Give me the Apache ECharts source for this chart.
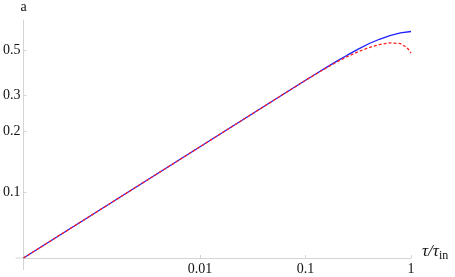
<!DOCTYPE html>
<html>
<head>
<meta charset="utf-8">
<script src="https://cdn.jsdelivr.net/npm/echarts@6/dist/echarts.min.js"></script>
<style>
html,body{margin:0;padding:0;background:#fff;}
#chart{width:455px;height:277px;}
</style>
</head>
<body>
<div id="chart"></div>
<script>
// ---- data ----
const tauBlue = [0.000212, 0.001, 0.01, 0.05, 0.1, 0.126, 0.158, 0.2, 0.251, 0.316, 0.398, 0.501, 0.631, 0.794, 1.0];
const aBlue   = [0.0473, 0.0786, 0.167, 0.283, 0.355, 0.382, 0.411, 0.442, 0.473, 0.505, 0.537, 0.565, 0.589, 0.607, 0.617];
const tauRed  = [0.000212, 0.001, 0.01, 0.05, 0.1, 0.126, 0.158, 0.2, 0.251, 0.316, 0.398, 0.501, 0.631, 0.794, 0.9, 0.95, 1.0];
const aRed    = [0.0473, 0.0786, 0.167, 0.283, 0.355, 0.381, 0.409, 0.438, 0.465, 0.491, 0.514, 0.532, 0.543, 0.538, 0.517, 0.503, 0.483];
const xTicks = [0.01, 0.1, 1];
const xTickLabels = ['0.01', '0.1', '1'];
const yTicks = [0.1, 0.2, 0.3, 0.5];
const yTickLabels = ['0.1', '0.2', '0.3', '0.5'];
const xRange = [0.000212, 1];
const yRange = [0.0473, 0.703];

function pick(ticks, labels, v) {
  let best = 0, bd = Infinity;
  ticks.forEach((t, i) => { const d = Math.abs(Math.log10(t) - Math.log10(v)); if (d < bd) { bd = d; best = i; } });
  return labels[best];
}

const axisColor = '#d4d4d4';
const font = "'Liberation Serif', 'DejaVu Serif', serif";
const chart = echarts.init(document.getElementById('chart'));
chart.setOption({
  animation: false,
  backgroundColor: '#fff',
  grid: { left: 22, right: 44, top: 20, bottom: 19, containLabel: false },
  xAxis: {
    type: 'log', logBase: 10, min: xRange[0], max: xRange[1],
    axisLine: { show: true, lineStyle: { color: axisColor, width: 1 } },
    axisTick: { show: true, inside: true, length: 3, customValues: xTicks, lineStyle: { color: axisColor } },
    minorTick: { show: false },
    splitLine: { show: false },
    axisLabel: { customValues: xTicks, margin: 4, color: '#111', fontFamily: font, fontSize: 14,
      formatter: v => pick(xTicks, xTickLabels, v) },
    name: '{n|τ/τ}{s|in}', nameLocation: 'end', nameGap: 11,
    nameTextStyle: { verticalAlign: 'bottom', padding: [0, 0, -2, 0],
      rich: {
        n: { fontFamily: font, fontStyle: 'italic', fontSize: 17, color: '#111', verticalAlign: 'bottom', lineHeight: 17 },
        s: { fontFamily: font, fontSize: 12, color: '#111', verticalAlign: 'bottom', lineHeight: 17, padding: [0, 0, -2, 0] }
      } }
  },
  yAxis: {
    type: 'log', logBase: 10, min: yRange[0], max: yRange[1],
    axisLine: { show: true, lineStyle: { color: axisColor, width: 1 } },
    axisTick: { show: true, inside: true, length: 3, customValues: yTicks, lineStyle: { color: axisColor } },
    minorTick: { show: false },
    splitLine: { show: false },
    axisLabel: { customValues: yTicks, margin: 3, color: '#111', fontFamily: font, fontSize: 14,
      formatter: v => pick(yTicks, yTickLabels, v) },
    name: 'a', nameLocation: 'end', nameGap: 6,
    nameTextStyle: { fontFamily: font, fontSize: 14, color: '#111', align: 'center' }
  },
  series: [
    { type: 'line', data: tauBlue.map((t, i) => [t, aBlue[i]]), smooth: false, showSymbol: false,
      lineStyle: { color: '#2020ff', width: 1.3 }, z: 2 },
    { type: 'line', data: tauRed.map((t, i) => [t, aRed[i]]), smooth: false, showSymbol: false,
      lineStyle: { color: '#ff2020', width: 1.3, type: [3, 2] }, z: 3 }
  ]
});
// Mathematica-style axis overhang past the origin
const o = chart.convertToPixel({ gridIndex: 0 }, [xRange[0], yRange[0]]);
chart.setOption({ graphic: [
  { type: 'line', shape: { x1: o[0] - 8, y1: o[1], x2: o[0], y2: o[1] }, style: { stroke: axisColor, lineWidth: 1 }, silent: true },
  { type: 'line', shape: { x1: o[0], y1: o[1], x2: o[0], y2: o[1] + 12 }, style: { stroke: axisColor, lineWidth: 1 }, silent: true }
] });
</script>
</body>
</html>
